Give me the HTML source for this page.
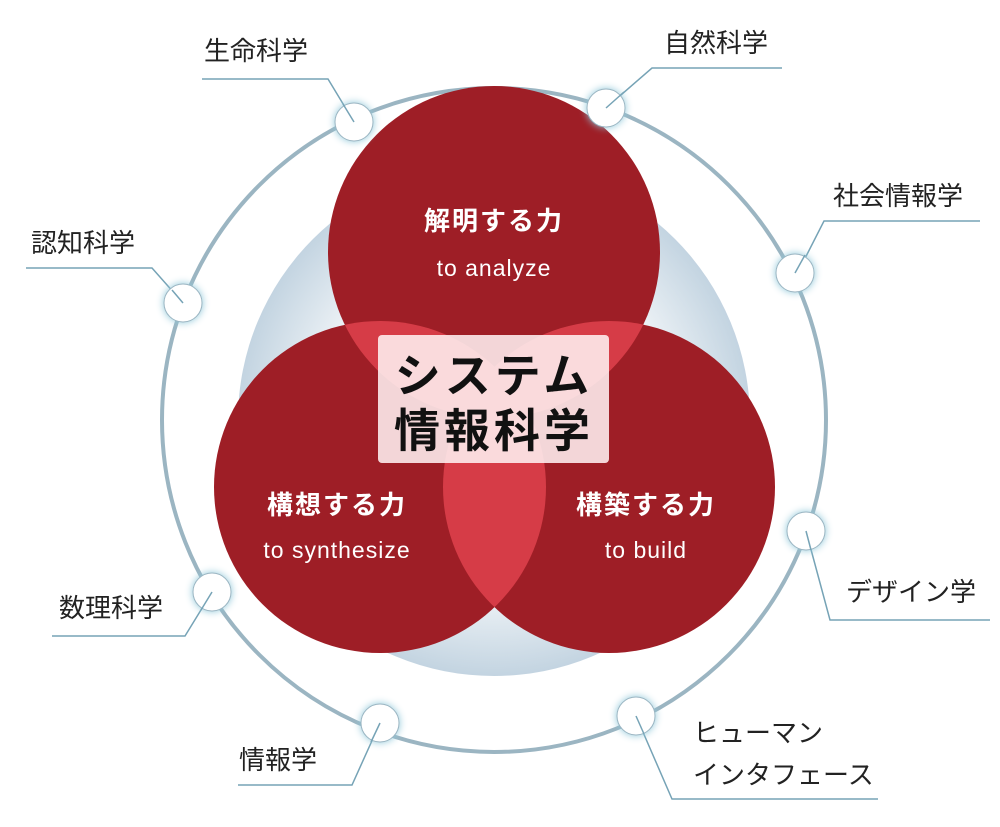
<!DOCTYPE html>
<html><head><meta charset="utf-8"><style>
body{margin:0;background:#fff}
svg{display:block;font-family:"Liberation Sans","Noto Sans CJK JP",sans-serif}
</style></head><body>
<svg width="1000" height="827" viewBox="0 0 1000 827" xmlns="http://www.w3.org/2000/svg">
<defs>
<radialGradient id="bg" cx="50%" cy="50%" r="50%">
<stop offset="0.55" stop-color="#ffffff"/><stop offset="1" stop-color="#c3d4e1"/>
</radialGradient>
<clipPath id="cA"><circle cx="494" cy="252" r="166"/></clipPath>
<clipPath id="cB"><circle cx="380" cy="487" r="166"/></clipPath>
</defs>
<circle cx="494" cy="420" r="332" fill="none" stroke="#9bb5c2" stroke-width="4"/>
<circle cx="494" cy="420" r="256" fill="url(#bg)"/>
<g fill="#9e1e26">
<circle cx="494" cy="252" r="166"/><circle cx="380" cy="487" r="166"/><circle cx="609" cy="487" r="166"/>
</g>
<g fill="#d63c47">
<circle cx="380" cy="487" r="166" clip-path="url(#cA)"/>
<circle cx="609" cy="487" r="166" clip-path="url(#cA)"/>
<circle cx="609" cy="487" r="166" clip-path="url(#cB)"/>
</g>
<rect x="378" y="335" width="231" height="128" rx="4" fill="#fff0f1" fill-opacity="0.88"/>
<g font-weight="bold" font-size="46" fill="#111" text-anchor="middle">
<text x="494" y="392" letter-spacing="4">システム</text>
<text x="494" y="447" letter-spacing="4">情報科学</text>
</g>
<g fill="#fff" text-anchor="middle">
<text x="494" y="230" font-size="26" font-weight="bold" letter-spacing="2">解明する力</text>
<text x="494" y="276" font-size="23" letter-spacing="1">to analyze</text>
<text x="337" y="514" font-size="26" font-weight="bold" letter-spacing="2">構想する力</text>
<text x="337" y="558" font-size="23" letter-spacing="1">to synthesize</text>
<text x="646" y="514" font-size="26" font-weight="bold" letter-spacing="2">構築する力</text>
<text x="646" y="558" font-size="23" letter-spacing="1">to build</text>
</g>
<g fill="none" stroke="#76a3b6" stroke-width="1.5">
<polyline points="202,79 328,79 354,122"/>
<polyline points="782,68 652,68 606,108"/>
<polyline points="980,221 824,221 795,278"/>
<polyline points="26,268 152,268 183,303"/>
<polyline points="990,620 830,620 806,531"/>
<polyline points="52,636 185,636 212,592"/>
<polyline points="238,785 352,785 380,723"/>
<polyline points="878,799 672,799 636,716"/>
</g>
<g fill="#fff" stroke="#9bb5c2" stroke-width="1" style="filter:drop-shadow(0 0 4px #8cc6d8)">
<circle cx="354" cy="122" r="19"/><circle cx="606" cy="108" r="19"/>
<circle cx="795" cy="273" r="19"/><circle cx="183" cy="303" r="19"/>
<circle cx="806" cy="531" r="19"/><circle cx="212" cy="592" r="19"/>
<circle cx="380" cy="723" r="19"/><circle cx="636" cy="716" r="19"/>
</g>
<g fill="none" stroke="#76a3b6" stroke-width="1.5">
<line x1="343" y1="104" x2="354" y2="122"/><line x1="624" y1="92" x2="606" y2="108"/>
<line x1="805" y1="255" x2="795" y2="273"/><line x1="172" y1="290" x2="183" y2="303"/>
<line x1="811" y1="550" x2="806" y2="531"/><line x1="201" y1="610" x2="212" y2="592"/>
<line x1="371" y1="742" x2="380" y2="723"/><line x1="644" y1="734" x2="636" y2="716"/>
</g>
<g fill="#222" font-size="26">
<text x="204" y="60">生命科学</text>
<text x="664" y="52">自然科学</text>
<text x="833" y="205">社会情報学</text>
<text x="31" y="252">認知科学</text>
<text x="846" y="601">デザイン学</text>
<text x="59" y="617">数理科学</text>
<text x="239" y="769">情報学</text>
<text x="693" y="742">ヒューマン</text>
<text x="693" y="784">インタフェース</text>
</g>
</svg>
</body></html>
